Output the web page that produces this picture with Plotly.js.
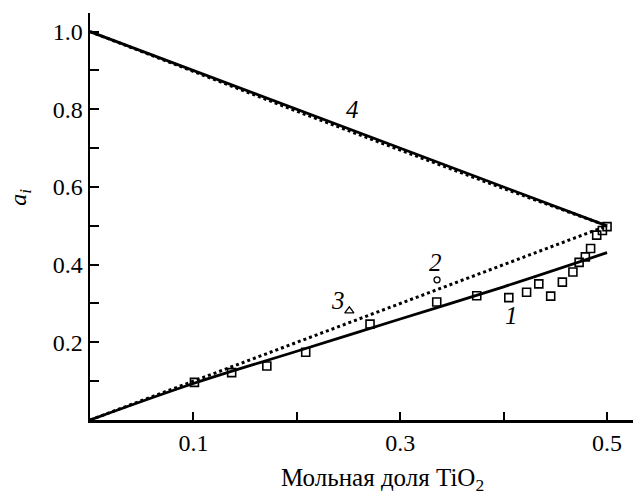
<!DOCTYPE html>
<html><head><meta charset="utf-8">
<script src="https://cdn.plot.ly/plotly-3.0.1.min.js"></script>
<style>html,body{margin:0;padding:0;background:#fff}</style>
</head><body><div id="chart" style="width:633px;height:494px"></div>
<script>
// Curve 4 (solid) and its dotted companion
const line4X = [0, 0.5];
const line4Y = [1.0, 0.5];
const line4DotX = [0, 0.1, 0.2, 0.3, 0.4, 0.5];
const line4DotY = [1.0, 0.897, 0.795, 0.695, 0.596, 0.5];
// Curve 2 (dotted, ideal)
const line2X = [0, 0.5];
const line2Y = [0, 0.5];
// Curve 1 (solid)
const line1X = [0, 0.1, 0.2, 0.3, 0.4, 0.5];
const line1Y = [0, 0.094, 0.177, 0.26, 0.343, 0.431];
// Experimental squares
const sqX = [0.101, 0.137, 0.171, 0.2086, 0.2708, 0.3353, 0.374, 0.405, 0.4222, 0.434, 0.4455, 0.4568, 0.467, 0.473, 0.479, 0.4841, 0.490, 0.4955, 0.500];
const sqY = [0.097, 0.122, 0.139, 0.1745, 0.247, 0.304, 0.320, 0.315, 0.329, 0.3505, 0.319, 0.355, 0.381, 0.406, 0.420, 0.4415, 0.476, 0.488, 0.498];
// Single points
const circX = [0.3356], circY = [0.361];
const triX = [0.2508], triY = [0.281];
// Curve labels
const labelText = ['1', '2', '3', '4'];
const labelX = [0.4077, 0.334, 0.240, 0.254];
const labelY = [0.268, 0.405, 0.309, 0.799];
// Tick labels
const xTickVals = [0.1, 0.3, 0.5];
const xTickText = ['0.1', '0.3', '0.5'];
const yTickVals = [0.2, 0.4, 0.6, 0.8, 1.0];
const yTickText = ['0.2', '0.4', '0.6', '0.8', '1.0'];

const serif = '"Liberation Serif", "Times New Roman", serif';
const traces = [
  {x: line4DotX, y: line4DotY, mode: 'lines', line: {color: '#000', width: 3, dash: 'dot'}},
  {x: line4X, y: line4Y, mode: 'lines', line: {color: '#000', width: 2.8}},
  {x: line2X, y: line2Y, mode: 'lines', line: {color: '#000', width: 3, dash: 'dot'}},
  {x: line1X, y: line1Y, mode: 'lines', line: {color: '#000', width: 2.8, shape: 'spline'}},
  {x: sqX, y: sqY, mode: 'markers', marker: {symbol: 'square-open', size: 8, color: '#000', line: {width: 1.6, color: '#000'}}},
  {x: circX, y: circY, mode: 'markers', marker: {symbol: 'circle-open', size: 6, color: '#000', line: {width: 1.3, color: '#000'}}},
  {x: triX, y: triY, mode: 'markers', marker: {symbol: 'triangle-up-open', size: 8, color: '#000', line: {width: 1.3, color: '#000'}}}
];

const annotations = labelText.map((t, i) => ({
  x: labelX[i], y: labelY[i], xref: 'x', yref: 'y', xanchor: 'center', yanchor: 'middle',
  text: '<i>' + t + '</i>',
  showarrow: false, font: {family: serif, size: 25, color: '#000'}
}));
annotations.push({
  x: -0.129, y: 0.575, xref: 'paper', yref: 'y', xanchor: 'center', yanchor: 'middle',
  textangle: -90,
  text: '<i>a</i><sub><i>i</i></sub>', showarrow: false,
  font: {family: serif, size: 24, color: '#000'}
});
annotations.push({
  x: 0.283, y: -0.145, xref: 'x', yref: 'paper', xanchor: 'center', yanchor: 'middle',
  text: 'Мольная доля TiO<sub>2</sub>', showarrow: false,
  font: {family: serif, size: 25, color: '#000'}
});

const layout = {
  width: 633, height: 494,
  margin: {l: 90, r: 0, t: 13, b: 74},
  paper_bgcolor: '#fff', plot_bgcolor: '#fff',
  showlegend: false,
  xaxis: {
    range: [0, 0.5251], showgrid: false, zeroline: false,
    showline: true, linecolor: '#000', linewidth: 2.5,
    ticks: 'inside', ticklen: 8, tickwidth: 2, tickcolor: '#000',
    tickvals: xTickVals, ticktext: xTickText,
    minor: {ticks: 'inside', ticklen: 8, tickwidth: 2, tickcolor: '#000', tick0: 0, dtick: 0.1, showgrid: false},
    tickfont: {family: serif, size: 24, color: '#000'}
  },
  yaxis: {
    range: [0, 1.048], showgrid: false, zeroline: false,
    showline: true, linecolor: '#000', linewidth: 2.5,
    ticks: 'inside', ticklen: 9, tickwidth: 2, tickcolor: '#000',
    tickvals: yTickVals, ticktext: yTickText,
    minor: {ticks: 'inside', ticklen: 9, tickwidth: 2, tickcolor: '#000', tick0: 0, dtick: 0.1, showgrid: false},
    tickfont: {family: serif, size: 24, color: '#000'}
  },
  annotations: annotations
};
Plotly.newPlot('chart', traces, layout, {displayModeBar: false, staticPlot: true});
</script></body></html>
